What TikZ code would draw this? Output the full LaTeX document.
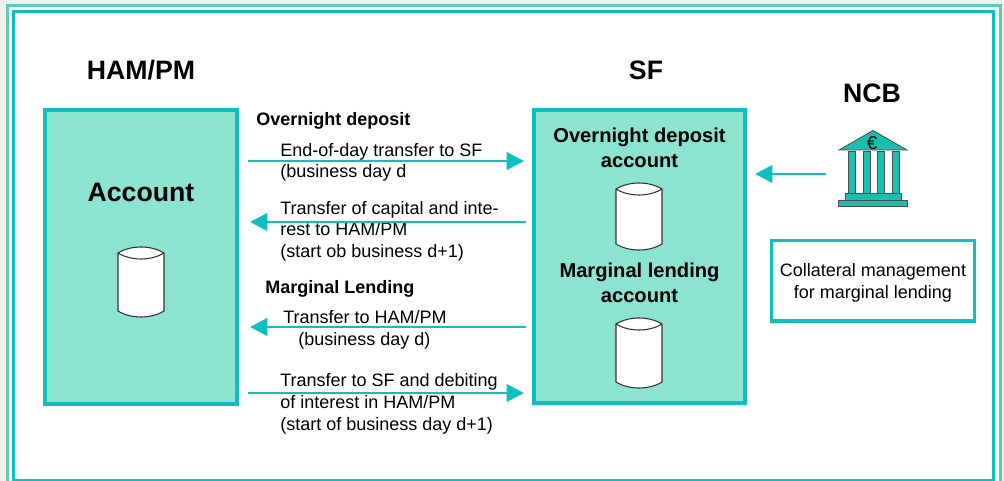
\documentclass[tikz,border=0pt]{standalone}
\usepackage{fontspec}
\setmainfont{Liberation Sans}
\usetikzlibrary{arrows.meta}
\definecolor{teal1}{HTML}{0FBFBF}
\definecolor{teal2}{HTML}{5CC8BE}
\definecolor{mint}{HTML}{8CE3D0}
\definecolor{bgout}{HTML}{F1F1EC}
\definecolor{bank}{HTML}{1BBFB0}
\tikzset{
  x=0.75pt,y=-0.75pt,
  panel/.style={draw=teal1,line width=2.6pt,fill=mint,inner sep=0pt},
  notebox/.style={draw=teal1,line width=2.6pt,fill=white,inner sep=0pt},
  notetext/.style={inner sep=0pt,align=center,font=\fontsize{13.5}{16.5}\selectfont},
  head/.style={font=\bfseries\fontsize{20}{24}\selectfont,inner sep=0pt,anchor=base},
  subhead/.style={font=\bfseries\fontsize{15.1}{19}\selectfont,inner sep=0pt,anchor=base,align=center},
  minor/.style={font=\bfseries\fontsize{13.5}{16}\selectfont,inner sep=0pt,anchor=base west},
  lbl/.style={font=\fontsize{13.5}{16.2}\selectfont,inner sep=0pt,anchor=north west,align=left},
  flow/.style={draw=teal1,line width=2.2pt,-{Triangle[length=13pt,width=13pt]}},
  bankpart/.style={draw=black!70,line width=0.6pt,fill=bank},
  cylline/.style={draw=black!80,line width=0.8pt},
}
\newcommand{\cyl}[3]{% center x, y of top ends, y of bottom ends
  \filldraw[fill=white,cylline]
    (#1-23,#2) .. controls (#1-10,#2-8) and (#1+10,#2-8) .. (#1+23,#2)
    -- (#1+23,#3) .. controls (#1+10,#3+8) and (#1-10,#3+8) .. (#1-23,#3) -- cycle;
  \draw[cylline]
    (#1-23,#2) .. controls (#1-10,#2+8) and (#1+10,#2+8) .. (#1+23,#2);
}
\begin{document}
\begin{tikzpicture}
\useasboundingbox (0,0) rectangle (1004,481);
\fill[bgout] (0,0) rectangle (1004,481);
\fill[white] (7,5) rectangle (1001,481);
\draw[teal2,line width=2.1pt] (7.5,485) -- (7.5,5.5) -- (1000.5,5.5) -- (1000.5,485);
\draw[teal1,line width=2.3pt] (13.5,485) -- (13.5,11.5) -- (993.7,11.5) -- (993.7,480.2) -- (13.5,480.2);

\node[panel,minimum width=144pt,minimum height=220.5pt] (ham) at (141,257) {};
\node[panel,minimum width=158.25pt,minimum height=219.75pt] (sf) at (639.5,256.5) {};
\node[notebox,minimum width=152.6pt,minimum height=60.4pt] (coll) at (873,280.7) {};
\node[notetext] (colltext) at (873,282.5) {Collateral management\\for marginal lending};

\node[head] (hamt) at (141,80) {HAM/PM};
\node[head] (sft) at (646,80) {SF};
\node[head] (ncbt) at (872,103) {NCB};
\node[head] (acc) at (141,202) {Account};

\node[subhead] (od) at (639.5,143) {Overnight deposit};
\node[subhead] (oda) at (639.5,168) {account};
\node[subhead] (ml) at (639.5,277) {Marginal lending};
\node[subhead] (mla) at (639.5,302) {account};

\node[minor] (m1) at (256,126) {Overnight deposit};
\node[minor] (m2) at (265,293) {Marginal Lending};

\node[lbl] (t1) at (280,143) {End-of-day transfer to SF\\(business day d};
\node[lbl] (t2) at (280,201) {Transfer of capital and inte-\\rest to HAM/PM\\(start ob business d+1)};
\node[lbl] (t3a) at (283,310) {Transfer to HAM/PM};
\node[lbl] (t3b) at (298,332) {(business day d)};
\node[lbl,font=\fontsize{13.5}{16.5}\selectfont] (t4) at (280,373) {Transfer to SF and debiting\\of interest in HAM/PM\\(start of business day d+1)};

\cyl{141}{253}{311}
\cyl{639}{189}{244}
\cyl{639}{324}{382}

\coordinate (a1s) at (248,161); \coordinate (a1e) at (524,161);
\coordinate (a2s) at (526,222); \coordinate (a2e) at (250,222);
\coordinate (a3s) at (526,327); \coordinate (a3e) at (250,327);
\coordinate (a4s) at (248,393); \coordinate (a4e) at (524,393);
\coordinate (a5s) at (826,174); \coordinate (a5e) at (755,174);
\draw[flow] (a1s) -- (a1e);
\draw[flow] (a2s) -- (a2e);
\draw[flow] (a3s) -- (a3e);
\draw[flow] (a4s) -- (a4e);
\draw[flow] (a5s) -- (a5e);

% bank
\path[bankpart] (839,150) -- (873,130.5) -- (907,150) -- cycle;
\foreach \x in {848,863,877,892} \path[bankpart] (\x,151) rectangle (\x+7,193);
\path[bankpart] (845,193) rectangle (901,200);
\path[bankpart] (838,200) rectangle (907,206);
\node[inner sep=0pt,font=\fontsize{14}{14}\selectfont] (euro) at (872,143) {€};
\end{tikzpicture}
\end{document}
